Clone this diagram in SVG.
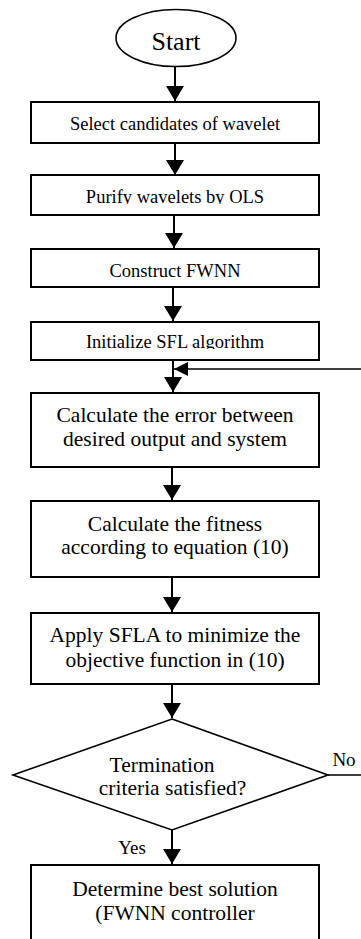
<svg xmlns="http://www.w3.org/2000/svg" width="361" height="939" viewBox="0 0 361 939">
<style>
.box{fill:#fff;stroke:#000;stroke-width:2}
.dia{fill:#fff;stroke:#000;stroke-width:1.6}
.ln{fill:none;stroke:#000;stroke-width:2}
text{font-family:'Liberation Serif',serif;fill:#000;text-anchor:middle}
.s{font-size:18.5px}
.m{font-size:21.5px}
</style>
<defs>
<marker id="ah" viewBox="0 0 15 18" refX="15" refY="9" markerWidth="15" markerHeight="18" markerUnits="userSpaceOnUse" orient="auto">
<path d="M0,0 L15,9 L0,18 z" fill="#000"/>
</marker>
<marker id="ah2" viewBox="0 0 14 14" refX="14" refY="7" markerWidth="14" markerHeight="14" markerUnits="userSpaceOnUse" orient="auto">
<path d="M0,0 L14,7 L0,14 z" fill="#000"/>
</marker>
<clipPath id="c2"><rect x="31" y="175" width="288" height="29"/></clipPath>
<clipPath id="c4"><rect x="31" y="322" width="288" height="27"/></clipPath>
</defs>

<g id="connectors">
<line class="ln" x1="175" y1="67" x2="175" y2="101" marker-end="url(#ah)"/>
<line class="ln" x1="175" y1="143" x2="175" y2="175" marker-end="url(#ah)"/>
<line class="ln" x1="174" y1="215" x2="174" y2="248" marker-end="url(#ah)"/>
<line class="ln" x1="173" y1="287" x2="173" y2="321" marker-end="url(#ah)"/>
<line class="ln" x1="173" y1="360" x2="173" y2="392" marker-end="url(#ah)"/>
<line class="ln" x1="172" y1="467" x2="172" y2="500" marker-end="url(#ah)"/>
<line class="ln" x1="172" y1="577" x2="172" y2="612" marker-end="url(#ah)"/>
<line class="ln" x1="172" y1="684" x2="172" y2="718" marker-end="url(#ah)"/>
<line class="ln" x1="172" y1="830" x2="172" y2="864" marker-end="url(#ah)"/>
<path class="ln" style="stroke-width:1.6" d="M328,775 H366 V369 H174" marker-end="url(#ah2)"/>
<text font-family="Liberation Serif, serif" x="344" y="766" style="font-size:19px">No</text>
<text font-family="Liberation Serif, serif" x="132" y="854" style="font-size:19px">Yes</text>
</g>

<g id="start">
<ellipse cx="176" cy="38" rx="60" ry="28.5" class="box" style="stroke-width:1.6"/>
<text x="176" y="50" style="font-size:26px">Start</text>
</g>

<g id="select">
<rect class="box" x="31" y="102" width="288" height="41"/>
<text class="s" x="175" y="130">Select candidates of wavelet</text>
</g>

<g id="purify">
<rect class="box" x="31" y="175" width="288" height="40"/>
<text class="s" x="175" y="203" clip-path="url(#c2)">Purify wavelets by OLS</text>
</g>

<g id="construct">
<rect class="box" x="31" y="249" width="288" height="38"/>
<text class="s" x="175" y="277">Construct FWNN</text>
</g>

<g id="initialize">
<rect class="box" x="31" y="322" width="288" height="38"/>
<text class="s" x="175" y="348" clip-path="url(#c4)">Initialize SFL algorithm</text>
</g>

<g id="error">
<rect class="box" x="31" y="393" width="288" height="74"/>
<text class="m" x="175" y="422">Calculate the error between</text>
<text class="m" x="175" y="446">desired output and system</text>
</g>

<g id="fitness">
<rect class="box" x="31" y="501" width="288" height="76"/>
<text class="m" x="175" y="531">Calculate the fitness</text>
<text class="m" x="175" y="554">according to equation (10)</text>
</g>

<g id="apply">
<rect class="box" x="31" y="613" width="288" height="71"/>
<text class="m" x="175" y="642">Apply SFLA to minimize the</text>
<text class="m" x="175" y="667">objective function in (10)</text>
</g>

<g id="termination">
<polygon class="dia" points="172,719 328,775 172,830 13,775"/>
<text class="m" x="162" y="772">Termination</text>
<text class="m" x="172.5" y="795">criteria satisfied?</text>
</g>

<g id="best">
<rect class="box" x="31" y="865" width="288" height="100"/>
<text class="m" x="175" y="896">Determine best solution</text>
<text class="m" x="175" y="920">(FWNN controller</text>
</g>
</svg>
